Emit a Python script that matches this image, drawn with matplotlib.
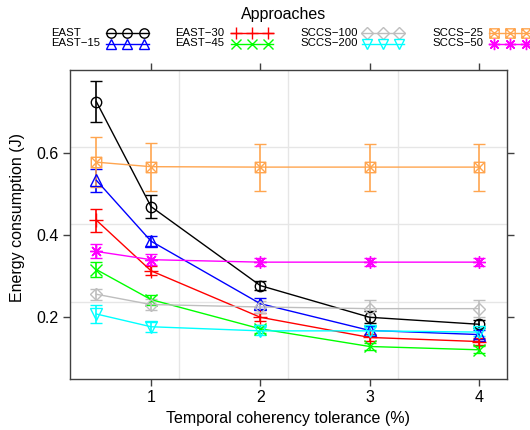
import matplotlib
matplotlib.use("Agg")
import matplotlib.pyplot as plt
from matplotlib.lines import Line2D
from matplotlib.path import Path
import numpy as np

plt.rcParams['font.family'] = ['Liberation Sans', 'DejaVu Sans']

# Temporal coherency tolerance (%)
tolerance = [0.5, 1, 2, 3, 4]

approaches = ["EAST", "EAST\u221215", "EAST\u221230", "EAST\u221245",
              "SCCS\u2212100", "SCCS\u2212200", "SCCS\u221225", "SCCS\u221250"]

# Mean energy consumption (J)
east     = [0.724, 0.469, 0.277, 0.200, 0.183]
east_15  = [0.533, 0.385, 0.233, 0.168, 0.158]
east_30  = [0.436, 0.313, 0.200, 0.151, 0.141]
east_45  = [0.316, 0.243, 0.172, 0.129, 0.121]
sccs_100 = [0.256, 0.231, 0.225, 0.221, 0.221]
sccs_200 = [0.208, 0.177, 0.167, 0.167, 0.164]
sccs_25  = [0.577, 0.566, 0.565, 0.565, 0.565]
sccs_50  = [0.360, 0.340, 0.334, 0.334, 0.334]

# Half-width of the error bars (J)
east_err     = [0.050, 0.028, 0.010, 0.015, 0.010]
east_15_err  = [0.028, 0.012, 0.014, 0.010, 0.010]
east_30_err  = [0.028, 0.011, 0.010, 0.008, 0.008]
east_45_err  = [0.018, 0.012, 0.010, 0.008, 0.008]
sccs_100_err = [0.013, 0.013, 0.015, 0.020, 0.020]
sccs_200_err = [0.023, 0.012, 0.010, 0.010, 0.010]
sccs_25_err  = [0.060, 0.058, 0.057, 0.057, 0.057]
sccs_50_err  = [0.017, 0.013, 0.010, 0.010, 0.010]

means = [east, east_15, east_30, east_45, sccs_100, sccs_200, sccs_25, sccs_50]
errs = [east_err, east_15_err, east_30_err, east_45_err,
        sccs_100_err, sccs_200_err, sccs_25_err, sccs_50_err]

colors = ["#000000", "#0000FF", "#FF0000", "#00FF00",
          "#BEBEBE", "#00FFFF", "#FFA54F", "#FF00FF"]

# square with a cross inside
sq_x = Path([(-1, -1), (1, -1), (1, 1), (-1, 1), (-1, -1),
             (-1, -1), (1, 1), (-1, 1), (1, -1)],
            [Path.MOVETO, Path.LINETO, Path.LINETO, Path.LINETO, Path.CLOSEPOLY,
             Path.MOVETO, Path.LINETO, Path.MOVETO, Path.LINETO])
markers = ["o", "^", "+", "x", "D", "v", sq_x, (8, 2, 0)]
msizes = [7.5, 8.5, 10, 8, 6.5, 8.5, 7.5, 9]

fig = plt.figure(figsize=(5.3, 4.3), dpi=100)
ax = fig.add_axes([70 / 530, 1 - 379 / 430, 437 / 530, 309 / 430])

frame = "#404040"
for s in ax.spines.values():
    s.set_color(frame)
    s.set_linewidth(1.0)

# background reference grid
for gx in [1.256, 2.25, 3.256]:
    ax.axvline(gx, color="#E6E6E6", lw=1.0, zorder=0)
for gy in [0.237, 0.426, 0.613]:
    ax.axhline(gy, color="#E6E6E6", lw=1.0, zorder=0)

for m, e, c, mk, ms in zip(means, errs, colors, markers, msizes):
    ax.errorbar(tolerance, m, yerr=e, color=c, lw=1.0, elinewidth=1.2,
                capsize=4, capthick=1.2, marker=mk, markersize=ms,
                markerfacecolor="none", markeredgecolor=c, markeredgewidth=1.0)

ax.set_xlim(0.259, 4.256)
ax.set_ylim(0.05, 0.801)
ax.set_xticks([1, 2, 3, 4])
ax.set_yticks([0.2, 0.4, 0.6])
ax.tick_params(direction="out", length=5, width=1, color=frame,
               labelsize=11.5, top=True, right=True, labeltop=False,
               labelright=False, pad=3)
ax.set_xlabel("Temporal coherency tolerance (%)", fontsize=11.5, labelpad=4)
fig.text(18 / 530, 1 - 218 / 430, "Energy consumption (J)", rotation=90,
         fontsize=11.5, ha="center", va="center")

# key placed above the panel
fig.text(284 / 530, 1 - 15 / 430, "Approaches", fontsize=11.5,
         ha="center", va="center")
col_text_x = [51, 175, 300, 432]
col_key_x = [(111, 127.3, 144), (236, 252, 268),
             (367.3, 383.3, 399.3), (494.3, 510, 525.7)]
row_y = [32.5, 43.5]
for i, (name, c, mk, ms) in enumerate(zip(approaches, colors, markers, msizes)):
    col, row = divmod(i, 2)
    y = 1 - row_y[row] / 430
    fig.text(col_text_x[col] / 530, y, name, fontsize=8.2, ha="left", va="center")
    kx = np.array(col_key_x[col]) / 530
    fig.add_artist(Line2D([kx[0] - 5 / 530, *kx, kx[2] + 5 / 530],
                          [y] * 5, transform=fig.transFigure, color=c, lw=1.0,
                          marker=mk, markersize=ms * 0.9, markevery=[1, 2, 3],
                          markerfacecolor="none", markeredgecolor=c,
                          markeredgewidth=1.0))

fig.savefig("out.png", dpi=100)
